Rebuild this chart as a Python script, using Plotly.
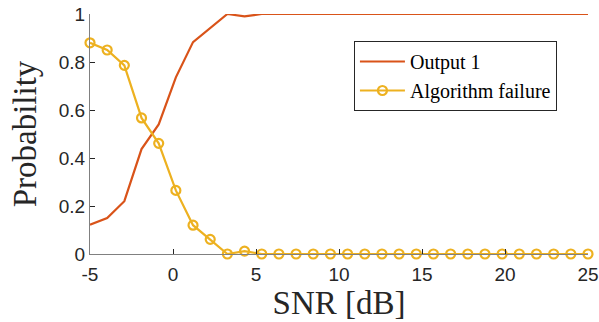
import numpy as np
import plotly.graph_objects as go

snr = np.linspace(-5, 25, 30)
output1 = [0.122, 0.15, 0.22, 0.437, 0.54, 0.736, 0.883, 0.94, 1.0, 0.99,
           1.0, 1.0, 1.0, 1.0, 1.0, 1.0, 1.0, 1.0, 1.0, 1.0,
           1.0, 1.0, 1.0, 1.0, 1.0, 1.0, 1.0, 1.0, 1.0, 1.0]
failure = [0.88, 0.85, 0.786, 0.567, 0.461, 0.265, 0.12, 0.061, 0.0, 0.012,
           0.0, 0.0, 0.0, 0.0, 0.0, 0.0, 0.0, 0.0, 0.0, 0.0,
           0.0, 0.0, 0.0, 0.0, 0.0, 0.0, 0.0, 0.0, 0.0, 0.0]
xticks = [-5, 0, 5, 10, 15, 20, 25]
xtick_labels = ["-5", "0", "5", "10", "15", "20", "25"]
yticks = [0, 0.2, 0.4, 0.6, 0.8, 1]
ytick_labels = ["0", "0.2", "0.4", "0.6", "0.8", "1"]

ORANGE = "#D95319"
YELLOW = "#EDB120"
serif = "Liberation Serif, Times New Roman, serif"
sans = "Liberation Sans, Arial, sans-serif"

fig = go.Figure()
fig.add_trace(go.Scatter(x=snr, y=output1, mode="lines", name="Output 1",
                         line=dict(color=ORANGE, width=2.2)))
fig.add_trace(go.Scatter(x=snr, y=failure, mode="lines+markers", name="Algorithm failure",
                         line=dict(color=YELLOW, width=2.2),
                         marker=dict(symbol="circle-open", size=9, color=YELLOW,
                                     line=dict(width=2.2, color=YELLOW))))

fig.update_layout(
    width=599, height=322,
    margin=dict(l=90, r=11, t=14, b=68, autoexpand=False),
    paper_bgcolor="white", plot_bgcolor="white",
    showlegend=True,
    legend=dict(x=0.53, y=0.8875, xanchor="left", yanchor="top",
                font=dict(family=serif, size=20, color="#000000"),
                bgcolor="white", bordercolor="#262626", borderwidth=1,
                itemwidth=45, tracegroupgap=0),
    xaxis=dict(range=[-5, 25], tickvals=xticks, ticktext=xtick_labels,
               ticks="inside", ticklen=5, ticklabeloverflow="allow", automargin=False,
               ticklabelstandoff=3,
               tickcolor="#262626", showline=True, linecolor="#808080", linewidth=1,
               showgrid=False, zeroline=False,
               tickfont=dict(family=sans, size=19, color="#262626"),
               title=dict(text="SNR [dB]", font=dict(family=serif, size=33, color="#262626"),
                          standoff=0)),
    yaxis=dict(range=[0, 1], tickvals=yticks, ticktext=ytick_labels, ticks="inside",
               ticklen=5, tickcolor="#262626", showline=True, linecolor="#808080",
               linewidth=1, showgrid=False, zeroline=False, automargin=False,
               tickfont=dict(family=sans, size=19, color="#262626"),
               title=dict(text="Probability", font=dict(family=serif, size=33, color="#262626"),
                          standoff=12)),
)
for t in fig.data:
    t.cliponaxis = False

fig.write_html("out.html")
